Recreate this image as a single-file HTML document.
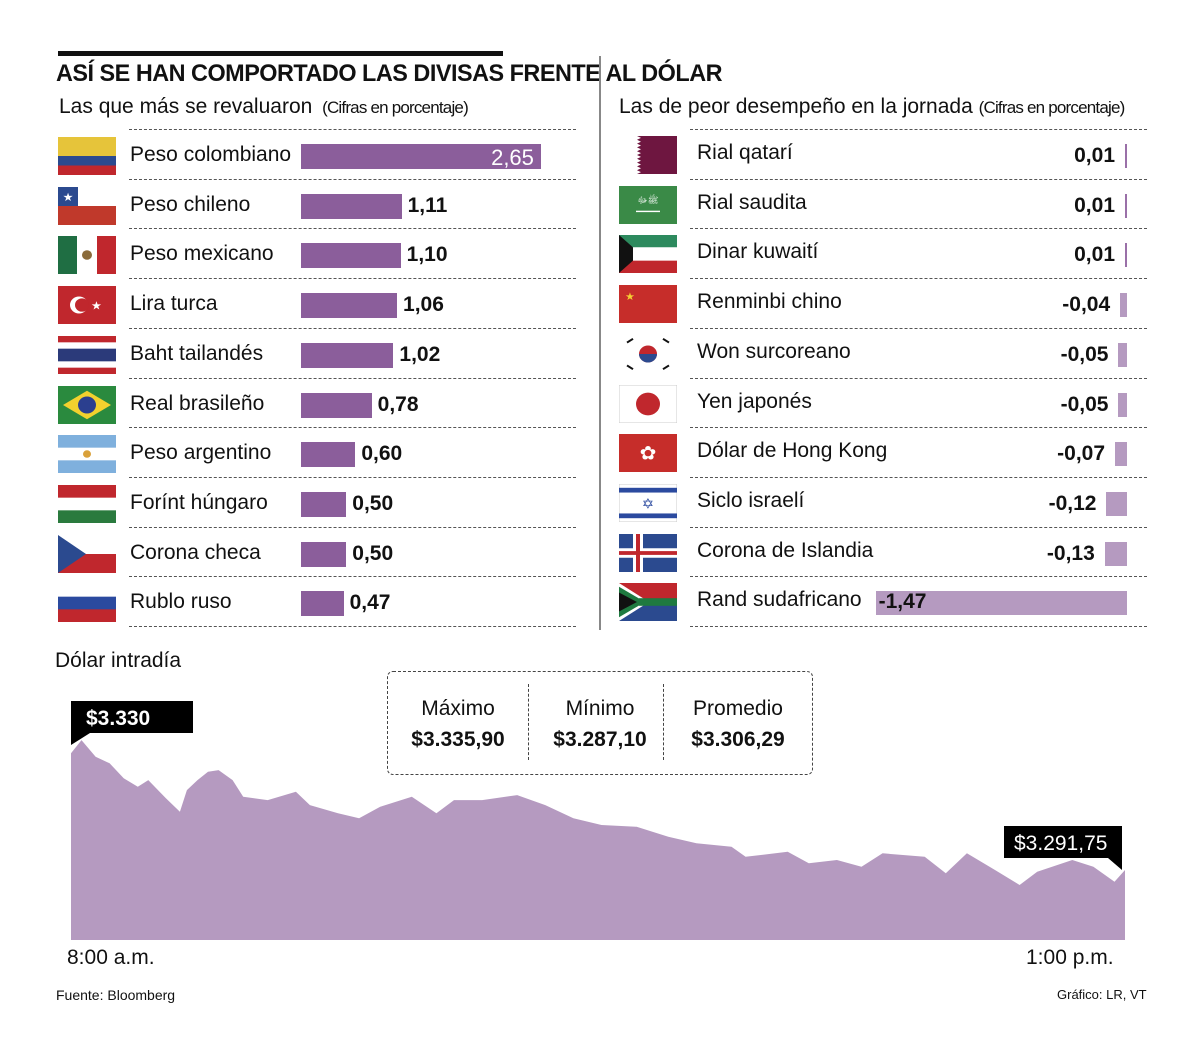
<!DOCTYPE html>
<html><head><meta charset="utf-8">
<style>
body{margin:0;background:#fff;font-family:"Liberation Sans",sans-serif;color:#111}
#root{position:relative;width:1200px;height:1051px;overflow:hidden}
.abs{position:absolute;white-space:nowrap}
.dash{position:absolute;height:0;border-top:1.5px dashed #555}
.lbl{font-size:21px;color:#111}
.val{font-size:21px;font-weight:bold;color:#111}
</style></head><body>
<div id="root">
<div class="abs" style="left:58px;top:51px;width:445px;height:5px;background:#111"></div>
<div class="abs" style="left:56px;top:60px;font-size:24px;font-weight:bold;letter-spacing:-0.5px;transform:scaleX(0.975);transform-origin:0 0">ASÍ SE HAN COMPORTADO LAS DIVISAS FRENTE AL DÓLAR</div>
<div class="abs" style="left:599px;top:56px;width:2px;height:574px;background:#888"></div>
<div class="abs" style="left:59px;top:95px;font-size:21px">Las que más se revaluaron <span style="font-size:17px;letter-spacing:-0.8px">&nbsp;(Cifras en porcentaje)</span></div>
<div class="abs" style="left:619px;top:95px;font-size:21px">Las de peor desempeño en la jornada <span style="font-size:17px;letter-spacing:-0.8px">(Cifras en porcentaje)</span></div>
<div id="rows"></div>
<div class="abs" style="left:55px;top:649px;font-size:21px">Dólar intradía</div>
<svg id="area" class="abs" style="left:0;top:0" width="1200" height="1051"></svg>
<div class="abs" style="left:387px;top:671px;width:424px;height:102px;border:1.5px dashed #444;border-radius:6px"></div>
<div class="abs" style="left:528px;top:684px;height:76px;border-left:1.5px dashed #444"></div>
<div class="abs" style="left:663px;top:684px;height:76px;border-left:1.5px dashed #444"></div>
<div class="abs" style="left:390px;top:697px;width:136px;text-align:center;font-size:21px">Máximo<br><b style="line-height:38px">$3.335,90</b></div>
<div class="abs" style="left:532px;top:697px;width:136px;text-align:center;font-size:21px">Mínimo<br><b style="line-height:38px">$3.287,10</b></div>
<div class="abs" style="left:670px;top:697px;width:136px;text-align:center;font-size:21px">Promedio<br><b style="line-height:38px">$3.306,29</b></div>
<div class="abs" style="left:67px;top:946px;font-size:21px">8:00 a.m.</div>
<div class="abs" style="left:1026px;top:946px;font-size:21px">1:00 p.m.</div>
<div class="abs" style="left:56px;top:987px;font-size:14px">Fuente: Bloomberg</div>
<div class="abs" style="left:1057px;top:987px;font-size:13px">Gráfico: LR, VT</div>
</div>
<script>
const leftNames=["Peso colombiano","Peso chileno","Peso mexicano","Lira turca","Baht tailandés","Real brasileño","Peso argentino","Forínt húngaro","Corona checa","Rublo ruso"];
const leftValues=[2.65,1.11,1.10,1.06,1.02,0.78,0.60,0.50,0.50,0.47];
const rightNames=["Rial qatarí","Rial saudita","Dinar kuwaití","Renminbi chino","Won surcoreano","Yen japonés","Dólar de Hong Kong","Siclo israelí","Corona de Islandia","Rand sudafricano"];
const rightValues=[0.01,0.01,0.01,-0.04,-0.05,-0.05,-0.07,-0.12,-0.13,-1.47];
const minutes=[0,3,7,11,15,19,22,27,31,33,36,39,42,46,49,56,64,68,76,82,88,97,104,109,117,127,135,143,151,161,170,178,188,192,204,210,218,225,231,243,249,255,263,270,275,285,291,297,300];
const prices=[3331.5,3336.0,3330.3,3328.1,3323.0,3320.1,3322.4,3316.2,3311.6,3319.0,3322.4,3325.2,3325.8,3322.4,3316.7,3315.6,3318.4,3313.9,3311.1,3309.4,3313.3,3316.7,3311.1,3315.6,3315.6,3317.3,3313.9,3309.4,3307.1,3306.5,3303.1,3300.9,3299.7,3296.3,3298.0,3294.1,3295.2,3292.9,3297.5,3296.3,3290.7,3297.5,3291.8,3286.7,3291.2,3295.2,3292.9,3287.8,3291.8];
const fmt=v=>v.toFixed(2).replace('.',',');
const rows=document.getElementById('rows');
function add(html){rows.insertAdjacentHTML('beforeend',html);return rows.lastElementChild;}
function stripes(cols){const h=40/cols.length;return cols.map((c,i)=>`<rect x="0" y="${i*h}" width="58" height="${h+0.5}" fill="${c}"/>`).join('');}
const flags=[
 `<rect width="58" height="20" fill="#e6c43a"/><rect y="20" width="58" height="10" fill="#2b4a8f"/><rect y="30" width="58" height="10" fill="#c0272d"/>`,
 `<rect width="58" height="20" fill="#fff"/><rect y="20" width="58" height="20" fill="#c0392b"/><rect width="20" height="20" fill="#2b4a8f"/><text x="10" y="15" font-size="12" fill="#fff" text-anchor="middle">★</text>`,
 `<rect width="19" height="40" fill="#1f6e43"/><rect x="19" width="20" height="40" fill="#fff"/><rect x="39" width="19" height="40" fill="#c0272d"/><circle cx="29" cy="20" r="5" fill="#8a6a3a"/>`,
 `<rect width="58" height="40" fill="#c0272d"/><circle cx="21" cy="20" r="9" fill="#fff"/><circle cx="24" cy="20" r="7" fill="#c0272d"/><text x="33" y="25" font-size="12" fill="#fff">★</text>`,
 stripes(["#c0272d","#fff","#2b3a7a","#2b3a7a","#fff","#c0272d"]),
 `<rect width="58" height="40" fill="#2a8a3e"/><polygon points="29,5 53,20 29,35 5,20" fill="#f2d12e"/><circle cx="29" cy="20" r="9" fill="#2b3f8f"/>`,
 stripes(["#7fb0dd","#fff","#7fb0dd"])+`<circle cx="29" cy="20" r="4" fill="#d9a13a"/>`,
 stripes(["#c0272d","#fff","#2a7a3e"]),
 `<rect width="58" height="20" fill="#fff"/><rect y="20" width="58" height="20" fill="#c0272d"/><polygon points="0,0 28,20 0,40" fill="#2b4a8f"/>`,
 stripes(["#fff","#2b4a9f","#c0272d"]),
 `<rect width="58" height="40" fill="#6e1640"/><rect width="18" height="40" fill="#fff"/><polyline points="18,0 22,2 18,4 22,6 18,8 22,10 18,12 22,14 18,16 22,18 18,20 22,22 18,24 22,26 18,28 22,30 18,32 22,34 18,36 22,38 18,40" fill="#fff"/>`,
 `<rect width="58" height="40" fill="#3a8a47"/><text x="29" y="18" font-size="9" fill="#fff" text-anchor="middle">ﷺﷻ</text><rect x="17" y="26" width="24" height="1.5" fill="#fff"/>`,
 `<rect width="58" height="13" fill="#2d8a5e"/><rect y="13" width="58" height="14" fill="#fff"/><rect y="27" width="58" height="13" fill="#c0272d"/><polygon points="0,0 14,13 14,27 0,40" fill="#111"/>`,
 `<rect width="58" height="40" fill="#c62d2a"/><text x="6" y="16" font-size="11" fill="#f5d033">★</text>`,
 `<rect width="58" height="40" fill="#fff"/><circle cx="29" cy="20" r="9" fill="#c0272d"/><path d="M20,20 A9,9 0 0,0 38,20 Z" fill="#2b4a8f"/><g stroke="#111" stroke-width="2"><line x1="8" y1="8" x2="14" y2="4"/><line x1="44" y1="4" x2="50" y2="8"/><line x1="8" y1="32" x2="14" y2="36"/><line x1="44" y1="36" x2="50" y2="32"/></g>`,
 `<rect width="58" height="40" fill="#fff" stroke="#ccc"/><circle cx="29" cy="20" r="12" fill="#c0272d"/>`,
 `<rect width="58" height="40" fill="#c62d2a"/><text x="29" y="27" font-size="20" fill="#fff" text-anchor="middle">✿</text>`,
 `<rect width="58" height="40" fill="#fff" stroke="#ccc"/><rect y="4" width="58" height="5" fill="#2b4a9f"/><rect y="31" width="58" height="5" fill="#2b4a9f"/><text x="29" y="26" font-size="15" fill="#2b4a9f" text-anchor="middle">✡</text>`,
 `<rect width="58" height="40" fill="#2b4a8f"/><rect x="14" width="10" height="40" fill="#fff"/><rect y="15" width="58" height="10" fill="#fff"/><rect x="17" width="4" height="40" fill="#c0272d"/><rect y="18" width="58" height="4" fill="#c0272d"/>`,
 `<rect width="58" height="20" fill="#c0272d"/><rect y="20" width="58" height="20" fill="#2b4a8f"/><polygon points="0,0 30,20 0,40" fill="#fff"/><polygon points="0,4 26,20 0,36" fill="#1f7a40"/><rect x="20" y="16" width="38" height="8" fill="#1f7a40"/><polygon points="0,10 18,20 0,30" fill="#111"/>`
];
const rowH=49.7, top0=129;
for(let i=0;i<11;i++){
 let d=add(`<div class="dash" style="left:129px;width:447px;top:${top0+i*rowH}px"></div>`);
 
 
 let d2=add(`<div class="dash" style="left:690px;width:457px;top:${top0+i*rowH}px"></div>`);
 
 
}
const lx=v=>301+v*90.6;
leftNames.forEach((n,i)=>{
 const cy=top0+i*rowH+27;
 let f=add(`<svg class="abs" width="58" height="38" viewBox="0 0 58 40" preserveAspectRatio="none" style="left:58px;top:${cy-19}px">${flags[i]}</svg>`);
 
 
 let l=add(`<div class="abs lbl" style="left:130px;top:${cy-13}px">${n}</div>`);
 
 
 const w=lx(leftValues[i])-301;
 let b=add(`<div class="abs" style="left:301px;top:${cy-12}px;width:${w}px;height:25px;background:#8b5e9b"></div>`);
 
 
 let v;
 if(i===0) v=add(`<div class="abs val" style="left:${301+w-50}px;top:${cy-11}px;color:#fff;font-weight:normal;font-size:22px">${fmt(leftValues[i])}</div>`);
 else v=add(`<div class="abs val" style="left:${301+w+6}px;top:${cy-12}px">${fmt(leftValues[i])}</div>`);
 
 
});
const rScale=171, rEnd=1127;
rightNames.forEach((n,i)=>{
 const cy=top0+i*rowH+26;
 let f=add(`<svg class="abs" width="58" height="38" viewBox="0 0 58 40" preserveAspectRatio="none" style="left:619px;top:${cy-19}px">${flags[10+i]}</svg>`);
 
 
 let l=add(`<div class="abs lbl" style="left:697px;top:${cy-14}px">${n}</div>`);
 
 
 const val=rightValues[i];
 const w=Math.max(2,Math.abs(val)*rScale);
 let b=add(`<div class="abs" style="left:${rEnd-w}px;top:${cy-11}px;width:${w}px;height:24px;background:${val>0?'#9a70a8':'#b59ac0'}"></div>`);
 
 
 const txt=(val<0?'-':'')+fmt(Math.abs(val));
 let v;
 if(w>120) v=add(`<div class="abs val" style="left:${rEnd-w+3}px;top:${cy-12}px">${txt}</div>`);
 else v=add(`<div class="abs val" style="right:${1200-(rEnd-w-10)}px;top:${cy-11}px">${txt}</div>`);
 
 
});
// area chart
const svg=document.getElementById('area');
const xs=m=>71+m/300*1054;
const ys=p=>940-(p-3268)*2.94;
let d=`M${xs(minutes[0])},940 `+minutes.map((m,i)=>`L${xs(m).toFixed(1)},${ys(prices[i]).toFixed(1)}`).join(' ')+` L${xs(minutes[minutes.length-1])},940 Z`;
const NS='http://www.w3.org/2000/svg';
const p=document.createElementNS(NS,'path');
p.setAttribute('d',d);p.setAttribute('fill','#b59ac0');


svg.appendChild(p);
svg.insertAdjacentHTML('beforeend',`<polygon points="71,701 193,701 193,733 90,733 71,745" fill="#000"/><text x="86" y="725" font-size="21" fill="#fff" font-family="Liberation Sans" font-weight="bold">$3.330</text>
<polygon points="1004,826 1122,826 1122,870 1108,858 1004,858" fill="#000"/><text x="1014" y="850" font-size="21" fill="#fff" font-family="Liberation Sans">$3.291,75</text>`);
</script>
</body></html>
